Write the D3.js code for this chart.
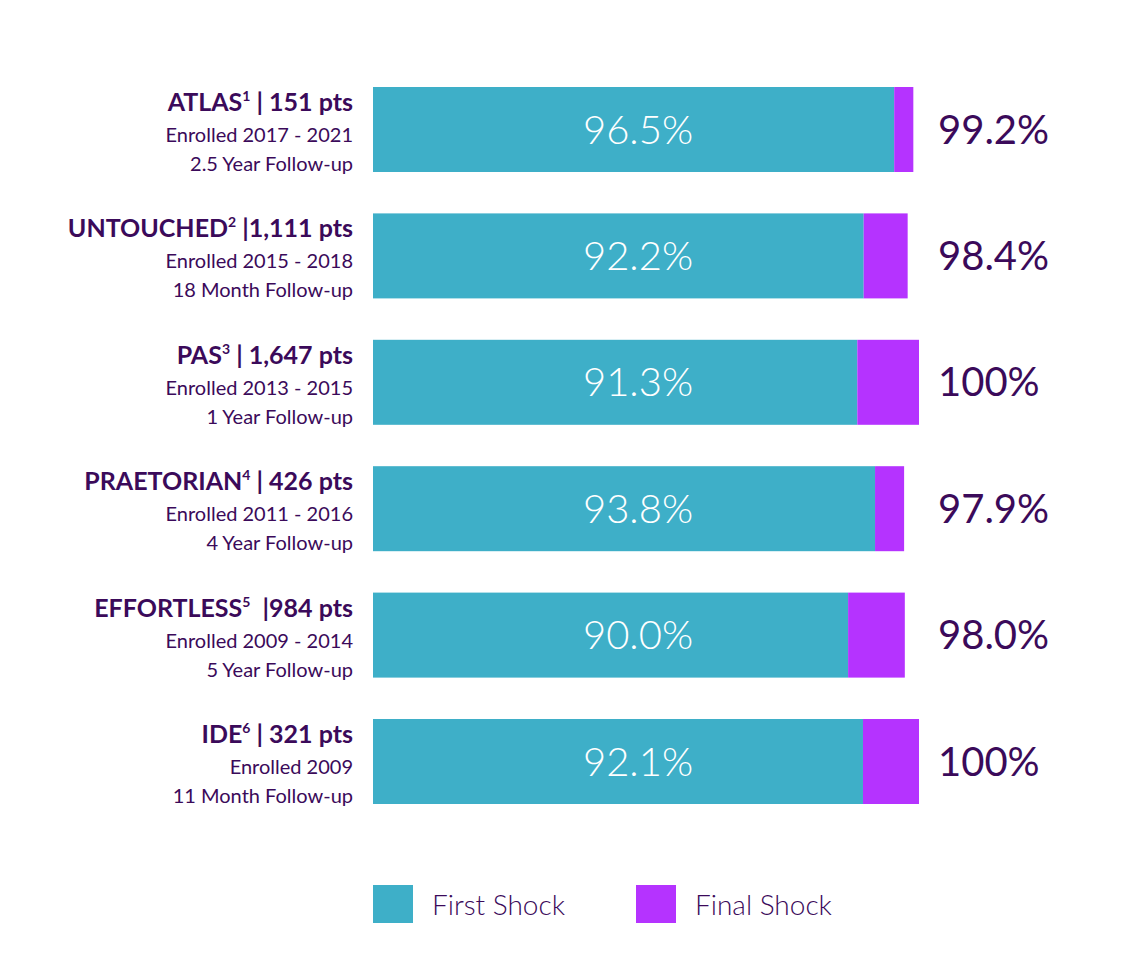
<!DOCTYPE html><html><head><meta charset="utf-8">
<script src="https://cdn.jsdelivr.net/npm/d3@7"></script>
<style>body{margin:0;background:#fff}</style></head><body>
<svg id="c" width="1144" height="979"></svg>
<script>
const studies=["ATLAS","UNTOUCHED","PAS","PRAETORIAN","EFFORTLESS","IDE"];
const sups=["1","2","3","4","5","6"];
const pts=[" | 151 pts"," |1,111 pts"," | 1,647 pts"," | 426 pts","  |984 pts"," | 321 pts"];
const enrolled=["Enrolled 2017 - 2021","Enrolled 2015 - 2018","Enrolled 2013 - 2015","Enrolled 2011 - 2016","Enrolled 2009 - 2014","Enrolled 2009"];
const followup=["2.5 Year Follow-up","18 Month Follow-up","1 Year Follow-up","4 Year Follow-up","5 Year Follow-up","11 Month Follow-up"];
const firstShock=[96.5,92.2,91.3,93.8,90.0,92.1];
const finalShock=[99.2,98.4,100,97.9,98.0,100];
const firstLabels=["96.5%","92.2%","91.3%","93.8%","90.0%","92.1%"];
const finalLabels=["99.2%","98.4%","100%","97.9%","98.0%","100%"];
const legend=["First Shock","Final Shock"];
const C1="#3eafc8",C2="#b533ff",TX="#3b0a5a",F="Lato, 'Open Sans', sans-serif";
const svg=d3.select("#c");
const x=d3.scaleLinear().domain([23,100]).range([373,919]);
const y=d3.scaleBand().domain(studies).range([87,805]).paddingInner(0.5).paddingOuter(0);
// fix band so height ~85
const bh=85, step=(804-87-bh)/5;
const yc=i=>87+i*step;
studies.forEach((s,i)=>{
  const g=svg.append("g");
  g.append("rect").attr("x",x(23)).attr("y",yc(i)).attr("width",x(firstShock[i])-x(23)).attr("height",bh).attr("fill",C1);
  g.append("rect").attr("x",x(firstShock[i])).attr("y",yc(i)).attr("width",x(finalShock[i])-x(firstShock[i])).attr("height",bh).attr("fill",C2);
  g.append("text").attr("x",638).attr("y",yc(i)+bh/2+14).attr("text-anchor","middle").attr("fill","#fff").attr("font-family",F).attr("font-size",40).attr("font-weight",300).text(firstLabels[i]);
  g.append("text").attr("x",938).attr("y",yc(i)+bh/2+14).attr("fill",TX).attr("font-family",F).attr("font-size",40).text(finalLabels[i]);
  const t=g.append("text").attr("x",353).attr("y",yc(i)+24).attr("text-anchor","end").attr("fill",TX).attr("font-family",F).attr("font-size",25).attr("font-weight",700).attr("xml:space","preserve");
  t.append("tspan").text(s);
  t.append("tspan").attr("font-size",14).attr("dy",-10).text(sups[i]);
  t.append("tspan").attr("dy",10).text(pts[i]);
  g.append("text").attr("x",353).attr("y",yc(i)+55).attr("text-anchor","end").attr("fill",TX).attr("font-family",F).attr("font-size",20).text(enrolled[i]);
  g.append("text").attr("x",353).attr("y",yc(i)+84).attr("text-anchor","end").attr("fill",TX).attr("font-family",F).attr("font-size",20).text(followup[i]);
});
[[373,C1,legend[0]],[636,C2,legend[1]]].forEach(([lx,c,t])=>{
  svg.append("rect").attr("x",lx).attr("y",885).attr("width",40).attr("height",38).attr("fill",c);
  svg.append("text").attr("x",lx+59).attr("y",915).attr("fill",TX).attr("font-family",F).attr("font-size",28).attr("font-weight",300).text(t);
});
</script></body></html>
